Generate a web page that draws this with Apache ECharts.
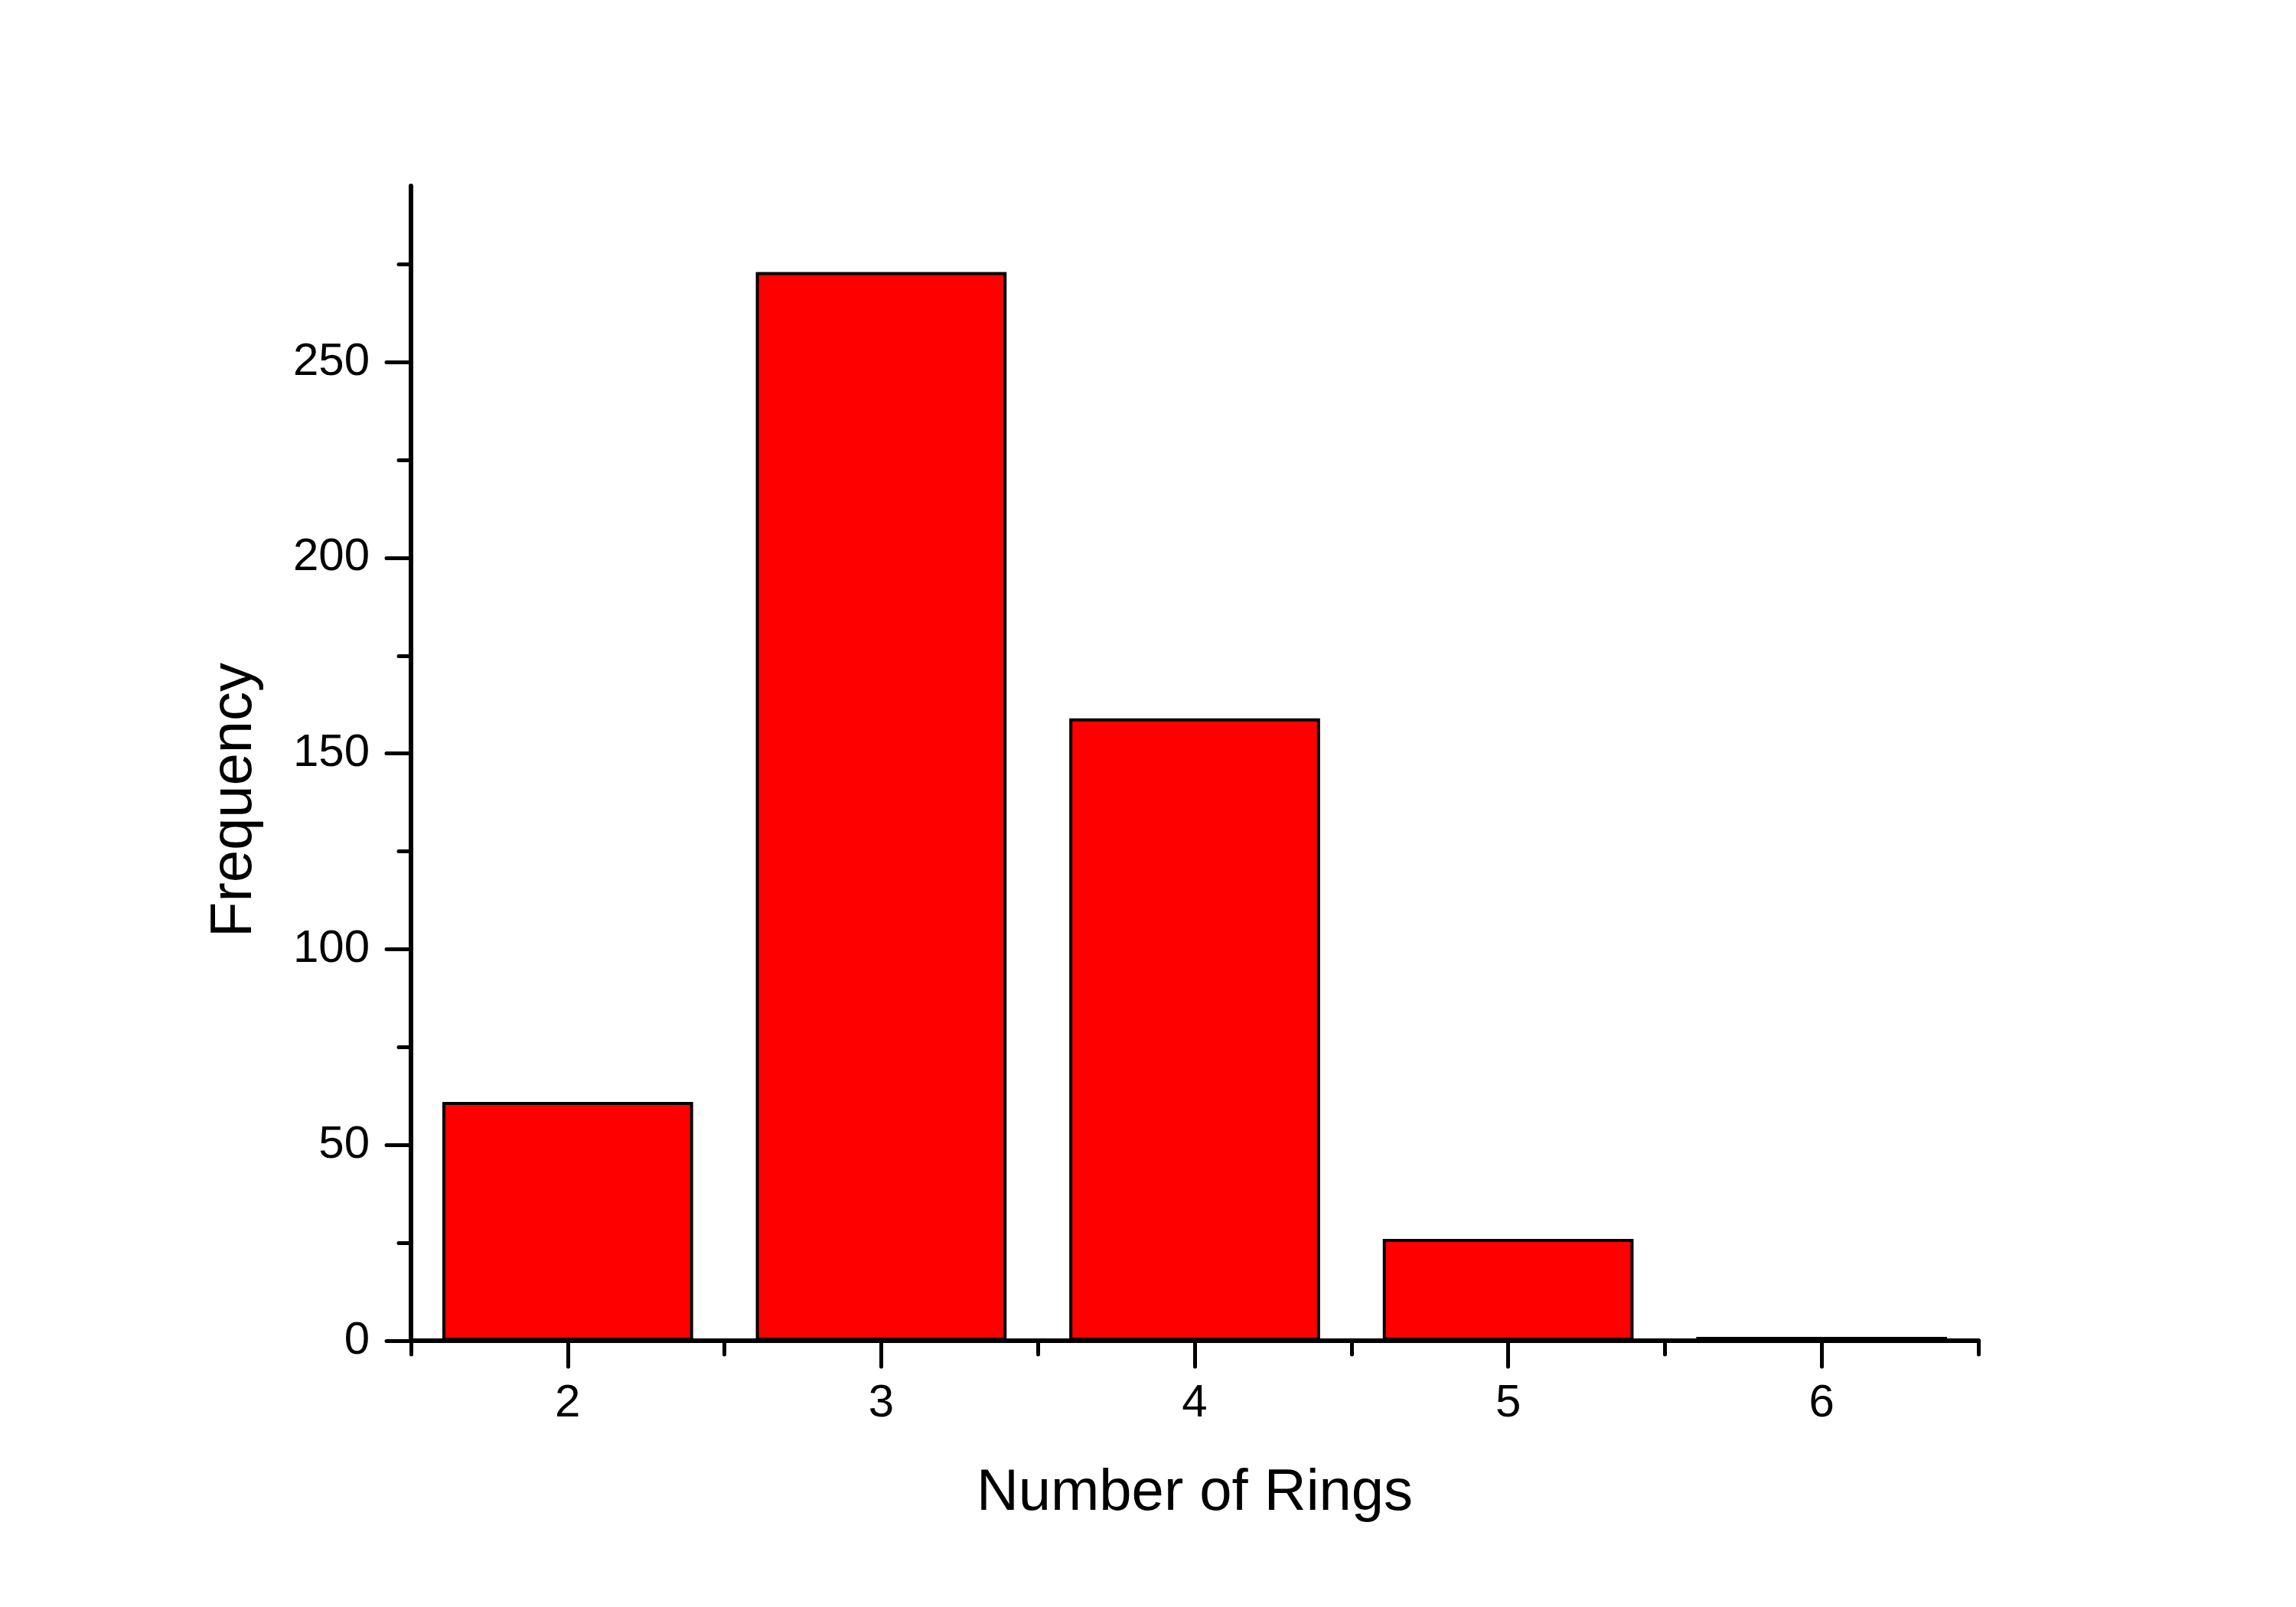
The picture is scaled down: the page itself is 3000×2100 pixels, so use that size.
<!DOCTYPE html>
<html>
<head>
<meta charset="utf-8">
<script src="https://cdn.jsdelivr.net/npm/echarts@6/dist/echarts.min.js"></script>
<style>html,body{margin:0;padding:0;background:#fff;}#c{width:3000px;height:2100px;}</style>
</head>
<body>
<div id="c"></div>
<script>
const categories = ['2', '3', '4', '5', '6'];
const frequency = [61, 273, 159, 26, 1];
const yMajorTicks = [0, 50, 100, 150, 200, 250];
const yMinorTicks = [25, 75, 125, 175, 225, 275];

const FONT = "Arial, 'Liberation Sans', sans-serif";
const chart = echarts.init(document.getElementById('c'));
chart.setOption({
  backgroundColor: '#ffffff',
  animation: false,
  grid: { left: 537, right: 415, top: 243, bottom: 348, containLabel: false },
  xAxis: [
    {
      type: 'category',
      data: categories,
      boundaryGap: true,
      position: 'bottom',
      name: 'Number of Rings',
      nameLocation: 'middle',
      nameGap: 162,
      nameTextStyle: { fontFamily: FONT, fontSize: 76, color: '#000' },
      axisLine: { show: true, lineStyle: { color: '#000', width: 6, cap: 'round' } },
      axisTick: { show: true, alignWithLabel: false, length: 18, lineStyle: { color: '#000', width: 5, cap: 'round' } },
      axisLabel: { show: true, margin: 52, fontFamily: FONT, fontSize: 60, color: '#000' },
      splitLine: { show: false }
    },
    {
      type: 'category',
      data: categories,
      boundaryGap: true,
      position: 'bottom',
      gridIndex: 0,
      axisLine: { show: false },
      axisTick: { show: true, alignWithLabel: true, length: 34, lineStyle: { color: '#000', width: 5, cap: 'round' } },
      axisLabel: { show: false },
      splitLine: { show: false }
    }
  ],
  yAxis: [
    {
      type: 'value',
      min: 0,
      max: 295,
      position: 'left',
      name: 'Frequency',
      nameLocation: 'middle',
      nameGap: 192,
      nameRotate: 90,
      nameTextStyle: { fontFamily: FONT, fontSize: 76, color: '#000', padding: [0, 96, 0, 0] },
      axisLine: { show: true, lineStyle: { color: '#000', width: 6, cap: 'round' } },
      axisTick: { show: true, length: 32, customValues: yMajorTicks, lineStyle: { color: '#000', width: 5, cap: 'round' } },
      axisLabel: { show: true, margin: 54, customValues: yMajorTicks, fontFamily: FONT, fontSize: 60, color: '#000' },
      minorTick: { show: false },
      splitLine: { show: false }
    },
    {
      type: 'value',
      min: 0,
      max: 295,
      position: 'left',
      axisLine: { show: false },
      axisTick: { show: true, length: 16, customValues: yMinorTicks, lineStyle: { color: '#000', width: 5, cap: 'round' } },
      axisLabel: { show: false },
      splitLine: { show: false }
    }
  ],
  series: [
    {
      type: 'bar',
      xAxisIndex: 0,
      yAxisIndex: 0,
      data: frequency,
      barWidth: '80%',
      itemStyle: { color: '#ff0000', borderColor: '#000', borderWidth: 4 },
      z: 1
    }
  ]
});
</script>
</body>
</html>
